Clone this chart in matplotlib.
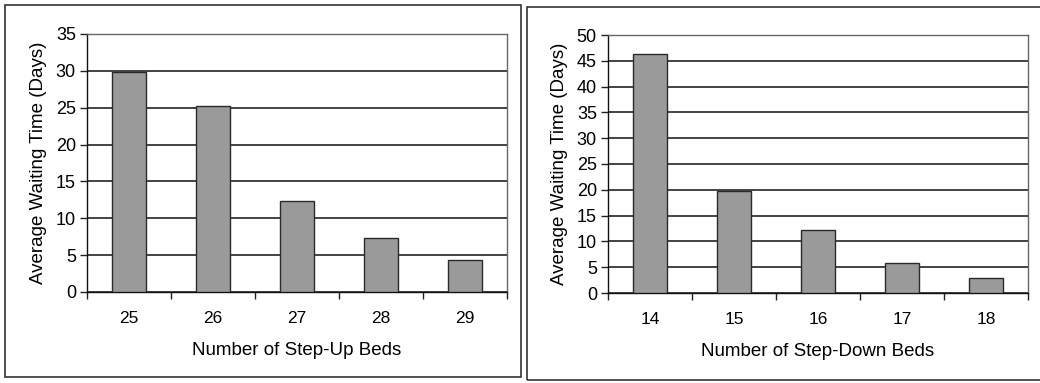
import matplotlib
matplotlib.use("Agg")
import matplotlib.pyplot as plt
from matplotlib.patches import Rectangle

plt.rcParams["font.family"] = ["Liberation Sans", "DejaVu Sans"]

# Step-up panel
up_beds = ["25", "26", "27", "28", "29"]
up_wait = [29.8, 25.3, 12.3, 7.3, 4.3]

# Step-down panel
down_beds = ["14", "15", "16", "17", "18"]
down_wait = [46.4, 19.8, 12.3, 5.8, 2.9]

W, H = 1040, 383
fig = plt.figure(figsize=(W / 100, H / 100), dpi=100)
fig.patch.set_facecolor("white")


def px_axes(x0, y_top, x1, y_bot):
    return fig.add_axes([x0 / W, 1 - y_bot / H, (x1 - x0) / W, (y_bot - y_top) / H])


def frame(x0, y0, x1, y1):
    fig.patches.append(Rectangle((x0 / W, 1 - y1 / H), (x1 - x0) / W, (y1 - y0) / H,
                                 transform=fig.transFigure, fill=False,
                                 edgecolor="#333333", lw=1.2))


def draw_panel(ax, cats, vals, ymax, step, xlabel):
    n = len(cats)
    pos = list(range(n))
    ax.bar(pos, vals, width=0.4, color="#9a9a9a", edgecolor="#2a2a2a", lw=1.0, zorder=3)
    ax.set_xlim(-0.5, n - 0.5)
    ax.set_ylim(0, ymax)
    ax.set_yticks(range(0, ymax + 1, step))
    # category boundaries carry the tick marks, the centres carry the labels
    ax.set_xticks([p + 0.5 for p in pos[:-1]] + [-0.5, n - 0.5], minor=False)
    ax.set_xticklabels([""] * (n + 1))
    ax.set_xticks(pos, minor=True)
    ax.set_xticklabels(cats, minor=True)
    ax.tick_params(axis="x", which="major", direction="out", length=5, width=1, color="#222222")
    ax.tick_params(axis="x", which="minor", length=0, pad=14, labelsize=12.5)
    ax.tick_params(axis="y", direction="out", length=5, width=1, color="#222222",
                   pad=3, labelsize=13)
    ax.yaxis.grid(True, color="#111111", lw=1.1, zorder=0)
    ax.set_axisbelow(True)
    for s in ax.spines.values():
        s.set_color("#666666")
        s.set_linewidth(1.0)
    ax.spines["bottom"].set_color("#111111")
    ax.spines["left"].set_color("#111111")
    ax.set_xlabel(xlabel, fontsize=13.5, labelpad=11)
    ax.set_ylabel("Average Waiting Time (Days)", fontsize=13.5, labelpad=6)


frame(5, 5, 521, 377)
frame(527, 7, 1045, 380)

ax1 = px_axes(87, 34, 507, 292)
draw_panel(ax1, up_beds, up_wait, 35, 5, "Number of Step-Up Beds")

ax2 = px_axes(608, 35, 1028, 293)
draw_panel(ax2, down_beds, down_wait, 50, 5, "Number of Step-Down Beds")

fig.savefig("out.png", dpi=100, facecolor="white")
